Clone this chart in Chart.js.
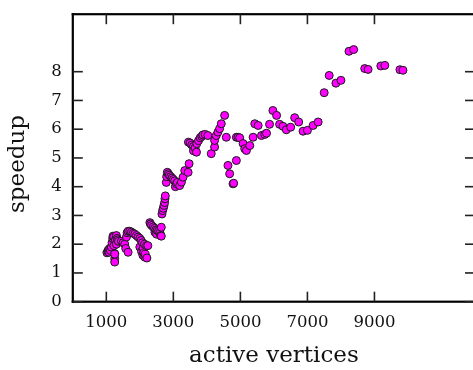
<!DOCTYPE html>
<html>
<head>
<meta charset="utf-8">
<script src="https://cdn.jsdelivr.net/npm/chart.js@4"></script>
<style>
html,body{margin:0;padding:0;overflow:hidden;background:#fff;}
#wrap{width:480px;height:370px;position:relative;}
</style>
</head>
<body>
<div id="wrap"><canvas id="c"></canvas></div>
<script>
const activeVertices = [
  1020,1040,1060,1080,1100,1120,1150,1170,1190,1200,1220,1230,1250,1250,1250,1250,1270,1300,1300,1320,1340,1360,
  1450,1500,1550,1580,1600,1620,1650,1650,1700,1750,1800,1850,1900,1950,2000,2000,2040,2050,2080,2090,2100,2120,2140,2150,2160,2200,2210,2240,
  2300,2320,2350,2400,2440,2450,2480,2500,2520,2560,2600,2620,2640,2640,
  2660,2680,2700,2720,2740,2750,2760,
  2790,2800,2820,2850,2880,2920,2960,3000,3040,3060,3090,3120,3190,3240,3290,3340,3440,3470,
  3450,3500,3550,3600,3600,3650,3690,3700,3750,3800,3850,3880,3950,4030,
  4130,4230,4230,4280,4330,4380,4430,4530,4580,
  4630,4680,4780,4800,4880,
  4880,4930,4980,5080,5130,5180,5280,5380,5430,5530,5630,5730,5780,5870,5970,6080,6170,6270,6370,6500,6620,6740,6870,7000,7170,7320,
  7500,7650,7850,8000,8240,8380,8710,8810,9190,9310,9760,9850
];
const speedup = [
  1.70,1.75,1.80,1.72,1.85,1.78,1.90,2.05,2.20,2.28,2.25,1.95,1.67,1.50,1.38,1.65,2.15,2.30,2.00,2.20,2.15,2.10,
  2.10,2.05,2.00,1.85,2.25,2.40,2.45,1.72,2.45,2.42,2.38,2.35,2.30,2.25,2.20,1.90,2.13,1.75,2.05,1.62,1.85,1.70,2.00,1.55,1.65,1.95,1.52,1.95,
  2.75,2.70,2.65,2.60,2.55,2.42,2.50,2.35,2.48,2.45,2.40,2.30,2.59,2.28,
  3.05,3.17,3.25,3.35,3.45,3.58,3.68,
  4.15,4.35,4.50,4.45,4.40,4.35,4.30,4.25,4.20,4.00,4.10,4.15,4.04,4.16,4.33,4.56,4.50,4.80,
  5.55,5.52,5.45,5.40,5.25,5.35,5.20,5.50,5.60,5.70,5.75,5.80,5.82,5.78,
  5.15,5.38,5.61,5.78,5.90,6.02,6.19,6.48,5.72,
  4.74,4.45,4.10,4.12,4.91,
  5.72,5.72,5.70,5.50,5.32,5.26,5.43,5.72,6.19,6.13,5.78,5.82,5.86,6.17,6.65,6.48,6.17,6.10,5.98,6.07,6.40,6.25,5.93,5.96,6.13,6.25,
  7.27,7.87,7.60,7.70,8.71,8.77,8.11,8.08,8.20,8.22,8.07,8.05
];
const xTicks = [1000,3000,5000,7000,9000];
const yTicks = [0,1,2,3,4,5,6,7,8];
const xRange = [0,12000];
const yRange = [0,10];

const points = activeVertices.map((x,i)=>({x:x, y:speedup[i]}));

const framePlugin = {
  id:'frame',
  afterDraw(chart){
    const ctx = chart.ctx;
    const a = chart.chartArea;
    const sx = chart.scales.x, sy = chart.scales.y;
    const L = 10, W = 1.6;
    ctx.save();
    ctx.fillStyle = '#000';
    const T = 2.2;
    ctx.fillRect(a.left - T/2, a.top - T/2, a.right - a.left + T, T);
    ctx.fillRect(a.left - T/2, a.bottom - T/2, a.right - a.left + T, T);
    ctx.fillRect(a.left - T/2, a.top - T/2, T, a.bottom - a.top + T);
    ctx.fillRect(a.right - T/2, a.top - T/2, T, a.bottom - a.top + T);
    ctx.fillStyle = '#222';
    const xs = sx.ticks.map(t => sx.getPixelForValue(t.value));
    const ys = sy.ticks.map(t => sy.getPixelForValue(t.value));
    xs.forEach(px => {
      ctx.fillRect(px - W/2, a.bottom - L, W, L);
      ctx.fillRect(px - W/2, a.top, W, L);
    });
    ys.forEach(py => {
      ctx.fillRect(a.left, py - W/2, L, W);
      ctx.fillRect(a.right - L, py - W/2, L, W);
    });
    ctx.font = '23px "DejaVu Serif"';
    ctx.fillStyle = '#111';
    ctx.textAlign = 'center';
    ctx.textBaseline = 'middle';
    ctx.translate(18.5, 164);
    ctx.rotate(-Math.PI/2);
    ctx.fillText('speedup', 0, 0);
    ctx.restore();
  }
};

new Chart(document.getElementById('c'),{
  type:'scatter',
  data:{datasets:[{
    data:points,
    backgroundColor:'#ff00ff',
    borderColor:'#1a1a1a',
    borderWidth:1,
    pointRadius:4,
    pointHoverRadius:4
  }]},
  options:{
    responsive:true,
    maintainAspectRatio:false,
    animation:false,
    events:[],
    layout:{padding:{left:0,top:14.2,right:4.3,bottom:0}},
    plugins:{legend:{display:false},tooltip:{enabled:false}},
    scales:{
      x:{
        type:'linear',
        min:xRange[0], max:xRange[1],
        afterBuildTicks(s){ s.ticks = xTicks.map(v=>({value:v})); },
        afterFit(s){ s.height = 68.3; s.paddingLeft = 0; s.paddingRight = 0; },
        grid:{display:false,drawTicks:false},
        border:{display:false},
        ticks:{padding:11,color:'#111',font:{family:'"DejaVu Serif"',size:16.5},maxRotation:0,autoSkip:false,callback:v=>String(v)},
        title:{display:true,text:'active vertices',color:'#111',font:{family:'"DejaVu Serif"',size:23},padding:{top:0,bottom:0}}
      },
      y:{
        type:'linear',
        min:yRange[0], max:yRange[1],
        afterBuildTicks(s){ s.ticks = yTicks.map(v=>({value:v})); },
        afterFit(s){ s.width = 72.8; s.paddingTop = 0; s.paddingBottom = 0; },
        grid:{display:false,drawTicks:false},
        border:{display:false},
        ticks:{padding:11,color:'#111',font:{family:'"DejaVu Serif"',size:16.5},autoSkip:false,callback:v=>String(v)}
      }
    }
  },
  plugins:[framePlugin]
});
</script>
</body>
</html>
